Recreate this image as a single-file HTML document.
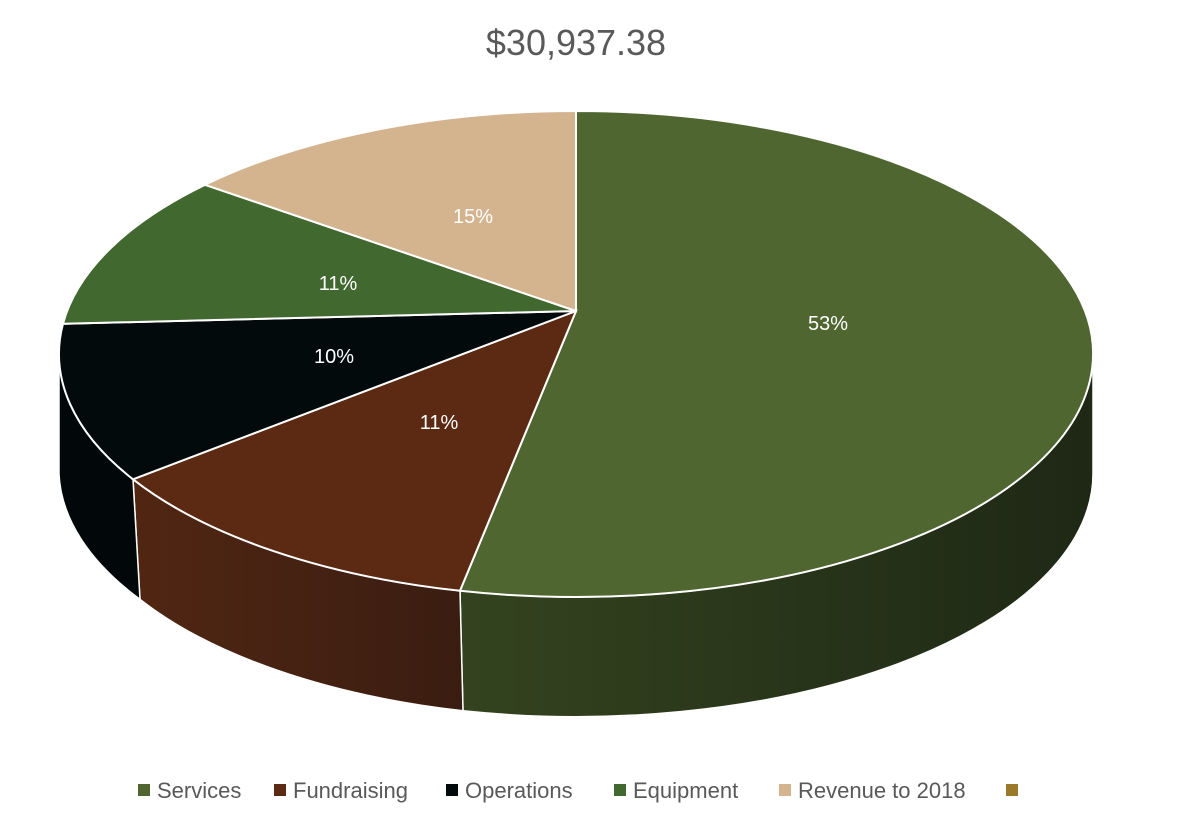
<!DOCTYPE html>
<html><head><style>
body{margin:0;background:#fff;width:1200px;height:826px;overflow:hidden;font-family:"Liberation Sans",sans-serif}
</style></head><body>
<svg width="1200" height="826" xmlns="http://www.w3.org/2000/svg">
<defs>
<linearGradient id="gs" x1="0" x2="1" y1="0" y2="0"><stop offset="0" stop-color="#34431f"/><stop offset="1" stop-color="#1e2815"/></linearGradient>
<linearGradient id="gf" x1="0" x2="1" y1="0" y2="0"><stop offset="0" stop-color="#512613"/><stop offset="1" stop-color="#3a1d11"/></linearGradient>
</defs>
<text x="576" y="55" font-size="36" fill="#595959" text-anchor="middle">$30,937.38</text>
<!-- sides -->
<path d="M1093,354 A517,243 0 0 1 460,590.8 L463,710.8 A517,243 0 0 0 1093,474 Z" fill="url(#gs)" stroke="#fff" stroke-width="1.5"/>
<path d="M460,590.8 A517,243 0 0 1 133,479.3 L140,599.3 A517,243 0 0 0 463,710.8 Z" fill="url(#gf)" stroke="#fff" stroke-width="1.5"/>
<path d="M133,479.3 A517,243 0 0 1 59,354 L59,474 A517,243 0 0 0 140,599.3 Z" fill="#02080a" stroke="#fff" stroke-width="1.5"/>
<!-- top -->
<path d="M576,311 L576,111 A517,243 0 1 1 460,590.8 Z" fill="#4f6630" stroke="#fff" stroke-width="2"/>
<path d="M576,311 L460,590.8 A517,243 0 0 1 133,479.3 Z" fill="#5c2a12" stroke="#fff" stroke-width="2"/>
<path d="M576,311 L133,479.3 A517,243 0 0 1 63,323.8 Z" fill="#030a0c" stroke="#fff" stroke-width="2"/>
<path d="M576,311 L63,323.8 A517,243 0 0 1 205,184.8 Z" fill="#41682f" stroke="#fff" stroke-width="2"/>
<path d="M576,311 L205,184.8 A517,243 0 0 1 576,111 Z" fill="#d4b38f" stroke="#fff" stroke-width="2"/>
<g font-size="20" fill="#fff" text-anchor="middle">
<text x="828" y="330">53%</text>
<text x="439" y="429">11%</text>
<text x="334" y="363">10%</text>
<text x="338" y="290">11%</text>
<text x="473" y="223">15%</text>
</g>
<g font-size="22" fill="#595959">
<rect x="138" y="784" width="12" height="12" fill="#4f6630"/><text x="157" y="798">Services</text>
<rect x="274" y="784" width="12" height="12" fill="#5c2a12"/><text x="293" y="798">Fundraising</text>
<rect x="446" y="784" width="12" height="12" fill="#030a0c"/><text x="465" y="798">Operations</text>
<rect x="614" y="784" width="12" height="12" fill="#41682f"/><text x="633" y="798">Equipment</text>
<rect x="779" y="784" width="12" height="12" fill="#d4b38f"/><text x="798" y="798">Revenue to 2018</text>
<rect x="1006" y="784" width="12" height="12" fill="#9a7a2a"/>
</g>
</svg>
</body></html>
